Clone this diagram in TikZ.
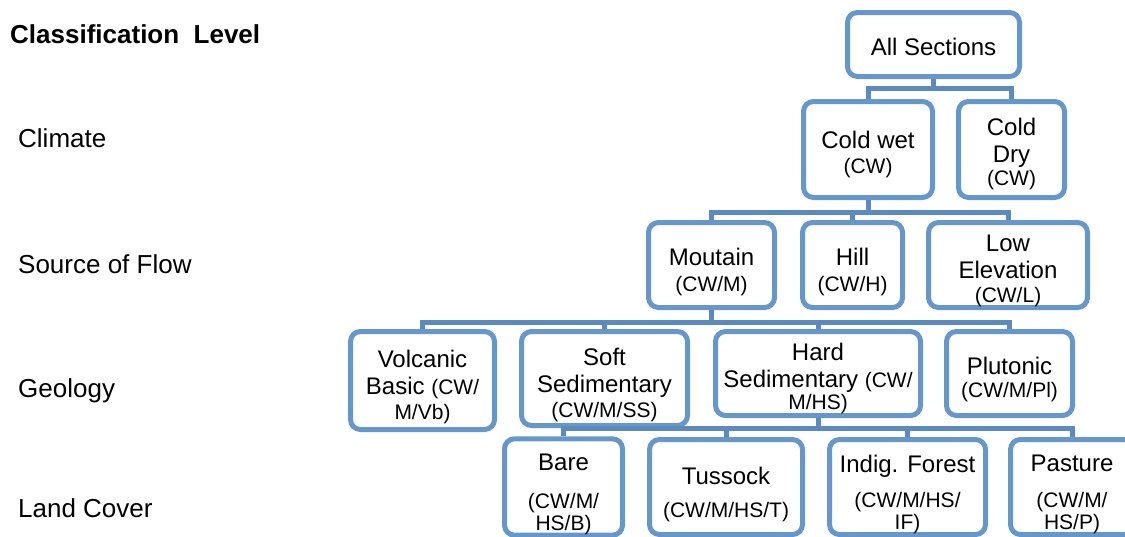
\documentclass[tikz,border=0pt]{standalone}
\usepackage{fontspec}
\setmainfont{Liberation Sans}
\definecolor{boxc}{RGB}{101,151,202}
\definecolor{linec}{RGB}{90,138,190}
\newcommand\mf{\fontsize{24}{27}\selectfont}
\newcommand\smallf{\fontsize{21}{23}\selectfont}
\newcommand\st[1]{\rule{0pt}{#1}}
\tikzset{
  box/.style={draw=boxc, line width=5pt, rounded corners=10pt, fill=white,
    inner sep=0pt, align=center, font=\mf},
  conn/.style={draw=linec, line width=5pt},
  lvl/.style={anchor=base west, inner sep=0pt, font=\fontsize{26}{30}\selectfont}
}
\begin{document}
\begin{tikzpicture}[x=1pt,y=-1pt]
\useasboundingbox (0,0) rectangle (1125,536);
% level labels
\node[lvl, font=\fontsize{26}{30}\selectfont\bfseries] (hdr) at (10,43) {Classification\ \ Level};
\node[lvl] (lclim) at (18,147) {Climate};
\node[lvl] (lsrc) at (18,273) {Source of Flow};
\node[lvl] (lgeo) at (18,397) {Geology};
\node[lvl] (lland) at (18,517) {Land Cover};
% boxes
\node[box, minimum width=172pt, minimum height=64pt] (all) at (933.5,44.5) {\st{23pt}All Sections};
\node[box, minimum width=129pt, minimum height=96pt] (cw) at (868,149.5) {\st{28pt}Cold wet\\[-2pt]\smallf (CW)};
\node[box, minimum width=106pt, minimum height=96pt] (cd) at (1011.5,149.5) {\st{27pt}Cold\\Dry\\[-4pt]\smallf (CW)};
\node[box, minimum width=126pt, minimum height=85pt] (mt) at (711.5,265) {\st{32pt}Moutain\\[-1pt]\smallf (CW/M)};
\node[box, minimum width=100pt, minimum height=85pt] (hill) at (852.5,265) {\st{32pt}Hill\\[-1pt]\smallf (CW/H)};
\node[box, minimum width=159pt, minimum height=85pt] (low) at (1008,265) {\st{29pt}Low\\Elevation\\[-3pt]\smallf (CW/L)};
\node[box, minimum width=144pt, minimum height=98pt] (vb) at (422.5,380.5) {\st{30pt}Volcanic\\Basic {\smallf (CW/}\\[-2pt]\smallf M/Vb)};
\node[box, minimum width=166pt, minimum height=94pt] (ss) at (604.5,378.5) {\st{31pt}Soft\\Sedimentary\\[-2pt]\smallf (CW/M/SS)};
\node[box, minimum width=205pt, minimum height=84pt] (hs) at (818,373.5) {\st{28pt}Hard\\Sedimentary {\smallf (CW/}\\[-5pt]\smallf M/HS)};
\node[box, minimum width=126pt, minimum height=84pt] (pl) at (1009.5,373.5) {\st{30pt}Plutonic\\[-4pt]\smallf (CW/M/Pl)};
\node[box, minimum width=118pt, minimum height=95pt] (bare) at (563.5,487) {\st{32pt}Bare\\[11pt]{\smallf (CW/M/}\\[-5pt]\smallf HS/B)};
\node[box, minimum width=153pt, minimum height=95pt] (tus) at (726,487) {\st{32pt}Tussock\\[6pt]\smallf (CW/M/HS/T)};
\node[box, minimum width=156pt, minimum height=95pt] (ind) at (907.5,487) {\st{32pt}Indig. Forest\\[8pt]{\smallf (CW/M/HS/}\\[-5pt]\smallf IF)};
\node[box, minimum width=123pt, minimum height=95pt] (pas) at (1072,487) {\st{32pt}Pasture\\[9pt]{\smallf (CW/M/}\\[-5pt]\smallf HS/P)};
% connectors
\draw[conn] (all.south) -- ++(0,9) coordinate (b1);
\draw[conn] (b1) -| (cw.north);
\draw[conn] (b1) -| (cd.north);
\draw[conn] (cw.south) -- ++(0,12) coordinate (b2);
\draw[conn] (b2) -| (mt.north);
\draw[conn] (b2) -| (hill.north);
\draw[conn] (b2) -| (low.north);
\draw[conn] (mt.south) -- ++(0,12) coordinate (b3);
\draw[conn] (b3) -| (vb.north);
\draw[conn] (b3) -| (ss.north);
\draw[conn] (b3) -| (hs.north);
\draw[conn] (b3) -| (pl.north);
\draw[conn] (hs.south) -- ++(0,10) coordinate (b4);
\draw[conn] (b4) -| (bare.north);
\draw[conn] (b4) -| (tus.north);
\draw[conn] (b4) -| (ind.north);
\draw[conn] (b4) -| (pas.north);
\end{tikzpicture}
\end{document}
